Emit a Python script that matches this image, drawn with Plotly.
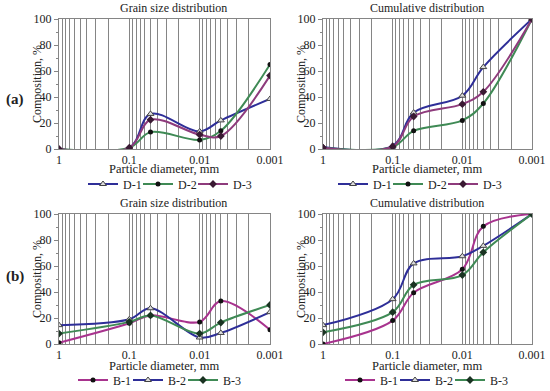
import plotly.graph_objects as go
import numpy as np

# ---- data ----
diameter = [1, 0.1, 0.05, 0.01, 0.005, 0.001]

D1_grain = [0, 1, 27, 13.5, 22, 38.5]
D2_grain = [0, 1, 13, 7, 14, 65]
D3_grain = [0, 1, 22.5, 11, 10, 56.5]

D1_cum = [1.5, 2.5, 28, 41, 63, 100]
D2_cum = [1, 1.5, 14, 22, 35, 100]
D3_cum = [1, 2, 25, 34.5, 44, 100]

B1_grain = [1, 16, 22, 17, 33, 11]
B2_grain = [14.5, 19, 27.5, 5, 8.5, 24.5]
B3_grain = [8, 17, 22, 8, 16.5, 30]

B1_cum = [0, 18, 39.5, 57.5, 90.5, 100]
B2_cum = [14.5, 34.5, 62, 67.5, 75.5, 100]
B3_cum = [9, 24.5, 45.5, 53, 70.5, 100]

tick_vals = [1, 0.1, 0.01, 0.001]
tick_text = ["1", "0.1", "0.01", "0.001"]

FONT = "Liberation Serif"
BLUE = "#2e2e98"
GREEN = "#3f8a55"
PURPLE = "#8e3b7c"
MAGENTA = "#a8338e"

styles = {
    "D-1": dict(color=BLUE, marker=dict(symbol="triangle-up", size=6, color="#dddddd", line=dict(color="#444444", width=1))),
    "D-2": dict(color=GREEN, marker=dict(symbol="circle", size=5, color="#111111")),
    "D-3": dict(color=PURPLE, marker=dict(symbol="diamond", size=6, color="#3a1a33")),
    "B-1": dict(color=MAGENTA, marker=dict(symbol="circle", size=5, color="#111111")),
    "B-2": dict(color=BLUE, marker=dict(symbol="triangle-up", size=6, color="#dddddd", line=dict(color="#444444", width=1))),
    "B-3": dict(color=GREEN, marker=dict(symbol="diamond", size=6, color="#1a3322")),
}

W, H = 550, 391
def px(v):
    return v / W
def py(v):
    return (H - v) / H

# legend text start positions (px) and row y (px) per panel
panels = [
    ("x", "y", 184, [124, 179, 234], [("D-1", D1_grain), ("D-2", D2_grain), ("D-3", D3_grain)]),
    ("x2", "y2", 184, [374, 429, 484], [("D-1", D1_cum), ("D-2", D2_cum), ("D-3", D3_cum)]),
    ("x3", "y3", 380, [114, 169, 224], [("B-1", B1_grain), ("B-2", B2_grain), ("B-3", B3_grain)]),
    ("x4", "y4", 380, [381, 436, 491], [("B-1", B1_cum), ("B-2", B2_cum), ("B-3", B3_cum)]),
]

fig = go.Figure()
legends = {}
k = 0
for xa, ya, ly, lxs, series in panels:
    for (name, vals), lx in zip(series, lxs):
        k += 1
        lname = "legend" if k == 1 else "legend%d" % k
        st = styles[name]
        fig.add_trace(go.Scatter(
            x=diameter, y=vals, name=name, mode="lines+markers", showlegend=True,
            line=dict(color=st["color"], width=2, shape="spline", smoothing=1.0),
            marker=st["marker"], xaxis=xa, yaxis=ya, legend=lname,
        ))
        legends[lname] = dict(x=px(lx - 41), y=py(ly), orientation="h",
                              xanchor="left", yanchor="middle",
                              font=dict(family=FONT, size=12, color="#222"),
                              bgcolor="rgba(0,0,0,0)", itemwidth=30)

minor_vals = [m * 10.0 ** e for e in (-1, -2, -3) for m in range(2, 10)]

xcommon = dict(
    type="log", range=[0, -3], tickvals=tick_vals, ticktext=tick_text,
    showgrid=True, gridcolor="#858585", gridwidth=1,
    showline=True, linecolor="#858585", mirror=True, zeroline=False,
    ticks="", tickfont=dict(family=FONT, size=12, color="#222"),
    minor=dict(tickvals=minor_vals, showgrid=True, gridcolor="#858585", gridwidth=1),
)
ycommon = dict(
    range=[0, 100], dtick=20, showgrid=False, zeroline=False,
    showline=True, linecolor="#858585", mirror=True,
    ticks="outside", ticklen=4, tickcolor="#858585",
    tickfont=dict(family=FONT, size=12, color="#222"),
    minor=dict(dtick=10, ticks="outside", ticklen=2, tickcolor="#858585"),
)

L1, R1 = 59, 270
L2, R2 = 323, 532
T1, B1 = 19, 149
T2, B2 = 214, 344

fig.update_layout(
    width=W, height=H, margin=dict(l=0, r=0, t=0, b=0, autoexpand=False),
    paper_bgcolor="white", plot_bgcolor="white", showlegend=True,
    font=dict(family=FONT, size=12, color="#222"),
    xaxis=dict(domain=[px(L1), px(R1)], anchor="y", **xcommon),
    yaxis=dict(domain=[py(B1), py(T1)], anchor="x", **ycommon),
    xaxis2=dict(domain=[px(L2), px(R2)], anchor="y2", **xcommon),
    yaxis2=dict(domain=[py(B1), py(T1)], anchor="x2", **ycommon),
    xaxis3=dict(domain=[px(L1), px(R1)], anchor="y3", **xcommon),
    yaxis3=dict(domain=[py(B2), py(T2)], anchor="x3", **ycommon),
    xaxis4=dict(domain=[px(L2), px(R2)], anchor="y4", **xcommon),
    yaxis4=dict(domain=[py(B2), py(T2)], anchor="x4", **ycommon),
    **legends,
)

ann = []
def text(x, y, s, size=12, angle=0, bold=False):
    ann.append(dict(x=px(x), y=py(y), xref="paper", yref="paper", text=("<b>%s</b>" % s) if bold else s,
                    showarrow=False, textangle=angle, xanchor="center", yanchor="middle",
                    font=dict(family=FONT, size=size, color="#222")))

text(173, 8, "Grain size distribution")
text(427, 8, "Cumulative distribution")
text(173, 203, "Grain size distribution")
text(427, 203, "Cumulative distribution")
for cx in ((L1 + R1) / 2, (L2 + R2) / 2):
    text(cx, 169, "Particle diameter, mm", size=12.5)
    text(cx, 366, "Particle diameter, mm", size=12.5)
for yc in ((T1 + B1) / 2, (T2 + B2) / 2):
    text(37, yc, "Composition, %", angle=-90)
    text(301, yc, "Composition, %", angle=-90)
text(15, 99, "(a)", size=15, bold=True)
text(15, 276, "(b)", size=15, bold=True)
fig.update_layout(annotations=ann)

fig.write_html("out.html", config={"displayModeBar": False},
               post_script="document.body.style.margin='0';document.body.style.overflow='hidden';")
